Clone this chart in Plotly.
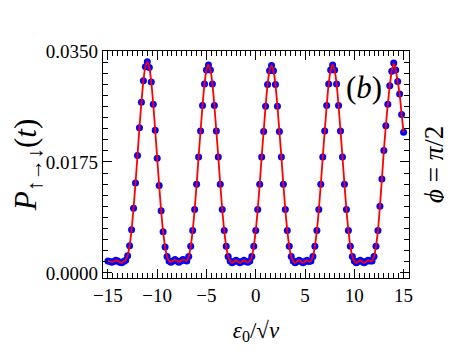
import plotly.graph_objects as go

# detuning values (eps_0 / sqrt(v)) and transition probability
eps = [-15.0, -14.8, -14.6, -14.4, -14.2, -14.0, -13.8, -13.6, -13.4, -13.2,
       -13.0, -12.8, -12.6, -12.4, -12.2, -12.0, -11.8, -11.6, -11.4, -11.2,
       -11.0, -10.8, -10.6, -10.4, -10.2, -10.0, -9.8, -9.6, -9.4, -9.2,
       -9.0, -8.8, -8.6, -8.4, -8.2, -8.0, -7.8, -7.6, -7.4, -7.2,
       -7.0, -6.8, -6.6, -6.4, -6.2, -6.0, -5.8, -5.6, -5.4, -5.2,
       -5.0, -4.8, -4.6, -4.4, -4.2, -4.0, -3.8, -3.6, -3.4, -3.2,
       -3.0, -2.8, -2.6, -2.4, -2.2, -2.0, -1.8, -1.6, -1.4, -1.2,
       -1.0, -0.8, -0.6, -0.4, -0.2, 0.0, 0.2, 0.4, 0.6, 0.8,
       1.0, 1.2, 1.4, 1.6, 1.8, 2.0, 2.2, 2.4, 2.6, 2.8,
       3.0, 3.2, 3.4, 3.6, 3.8, 4.0, 4.2, 4.4, 4.6, 4.8,
       5.0, 5.2, 5.4, 5.6, 5.8, 6.0, 6.2, 6.4, 6.6, 6.8,
       7.0, 7.2, 7.4, 7.6, 7.8, 8.0, 8.2, 8.4, 8.6, 8.8,
       9.0, 9.2, 9.4, 9.6, 9.8, 10.0, 10.2, 10.4, 10.6, 10.8,
       11.0, 11.2, 11.4, 11.6, 11.8, 12.0, 12.2, 12.4, 12.6, 12.8,
       13.0, 13.2, 13.4, 13.6, 13.8, 14.0, 14.2, 14.4, 14.6, 14.8,
       15.0]

prob = [0.0019, 0.0018, 0.0017, 0.0018, 0.0020, 0.0019, 0.0017, 0.0016, 0.0018, 0.0020,
        0.0027, 0.0043, 0.0068, 0.0102, 0.0142, 0.0185, 0.0229, 0.0269, 0.0303, 0.0325,
        0.0333, 0.0324, 0.0301, 0.0266, 0.0225, 0.0181, 0.0138, 0.0098, 0.0065, 0.0041,
        0.0026, 0.0019, 0.0017, 0.0019, 0.0021, 0.0019, 0.0017, 0.0019, 0.0021, 0.0020,
        0.0019, 0.0026, 0.0042, 0.0067, 0.0100, 0.0140, 0.0183, 0.0224, 0.0264, 0.0298,
        0.0320, 0.0328, 0.0320, 0.0298, 0.0264, 0.0224, 0.0183, 0.0140, 0.0100, 0.0067,
        0.0042, 0.0026, 0.0019, 0.0016, 0.0018, 0.0020, 0.0018, 0.0016, 0.0018, 0.0020,
        0.0018, 0.0017, 0.0019, 0.0026, 0.0042, 0.0067, 0.0100, 0.0140, 0.0183, 0.0223,
        0.0263, 0.0297, 0.0319, 0.0327, 0.0319, 0.0297, 0.0263, 0.0223, 0.0183, 0.0140,
        0.0100, 0.0067, 0.0042, 0.0026, 0.0019, 0.0016, 0.0018, 0.0020, 0.0018, 0.0016,
        0.0018, 0.0020, 0.0018, 0.0019, 0.0026, 0.0042, 0.0067, 0.0100, 0.0140, 0.0183,
        0.0224, 0.0264, 0.0298, 0.0320, 0.0328, 0.0320, 0.0298, 0.0264, 0.0224, 0.0183,
        0.0140, 0.0100, 0.0067, 0.0042, 0.0026, 0.0019, 0.0016, 0.0018, 0.0020, 0.0018,
        0.0016, 0.0018, 0.0020, 0.0019, 0.0019, 0.0026, 0.0042, 0.0067, 0.0105, 0.0148,
        0.0193, 0.0232, 0.0266, 0.0295, 0.0318, 0.0331, 0.0320, 0.0302, 0.0282, 0.0250,
        0.0222]

y_ticks = [0.0, 0.0175, 0.035]

serif = 'Liberation Serif'

fig = go.Figure()
# dots first, red curve drawn over them
fig.add_trace(go.Scatter(x=eps, y=prob, mode='markers',
                         marker=dict(color='#0000ff', size=7, line=dict(width=0)),
                         showlegend=False))
fig.add_trace(go.Scatter(x=eps, y=prob, mode='lines',
                         line=dict(color='#ff0000', width=1.8, shape='spline', smoothing=0.8),
                         showlegend=False))

axis_common = dict(showline=True, linecolor='black', linewidth=1.3, mirror='allticks',
                   ticks='inside', ticklen=9, tickwidth=1, tickcolor='black',
                   showgrid=False, zeroline=False, automargin=False,
                   tickfont=dict(family=serif, size=19, color='black'))

fig.update_xaxes(range=[-15.5, 15.55], tickmode='linear', tick0=0, dtick=5,
                 minor=dict(dtick=0.5, ticks='inside', ticklen=4.5, tickcolor='black'),
                 title=dict(text='<i>ε</i><sub>0</sub>/√<i>v</i>',
                            font=dict(family=serif, size=23, color='black'), standoff=16),
                 **axis_common)
fig.update_yaxes(range=[-0.0008, 0.035], tickmode='array', tickvals=y_ticks,
                 tickformat='.4f',
                 minor=dict(dtick=0.00175, tick0=0, ticks='inside', ticklen=4.5, tickcolor='black'),
                 title=dict(text='<i>P</i><sub>↑→↓</sub>(<i>t</i>)',
                            font=dict(family=serif, size=31, color='black'), standoff=23),
                 **axis_common)

fig.add_annotation(x=0.853, y=0.841, xref='paper', yref='paper', showarrow=False,
                   xanchor='center', yanchor='middle',
                   text='(<i>b</i>)', font=dict(family=serif, size=31, color='black'))
fig.add_annotation(x=1.082, y=0.498, xref='paper', yref='paper', showarrow=False,
                   xanchor='center', yanchor='middle',
                   text='<i>ϕ</i> = <i>π</i>/2', textangle=-90,
                   font=dict(family=serif, size=27, color='black'))

# page body adds an 8px offset, so margins are shifted up/left by that amount
fig.update_layout(width=452, height=360,
                  margin=dict(l=95, r=51, t=43, b=90),
                  plot_bgcolor='white', paper_bgcolor='white')

fig.write_html("out.html")
